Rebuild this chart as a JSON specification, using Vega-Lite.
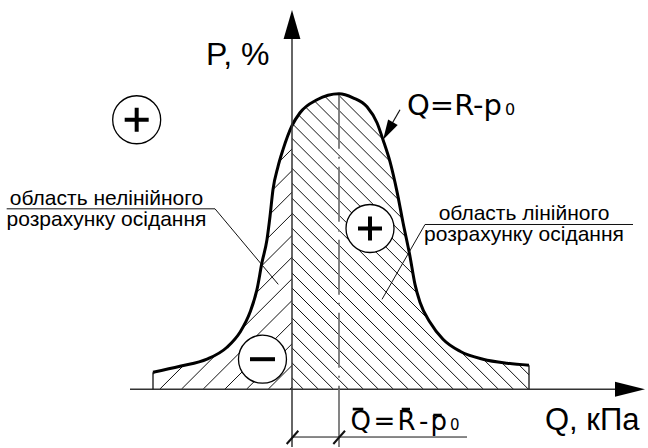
{
  "$schema": "https://vega.github.io/schema/vega-lite/v6.json",
  "width": 648,
  "height": 448,
  "autosize": {"type": "fit", "contains": "padding"},
  "padding": 0,
  "background": "white",
  "config": {"view": {"stroke": null}},
  "datasets": {
    "curve": [
      {"x": -34.75, "y": 4.25}, {"x": -28, "y": 5.75}, {"x": -21.25, "y": 7.5}, {"x": -16.25, "y": 10.5},
      {"x": -13, "y": 14.25}, {"x": -10.5, "y": 19.25}, {"x": -8.75, "y": 25}, {"x": -7.5, "y": 31.75},
      {"x": -6.25, "y": 37.5}, {"x": -5.5, "y": 43.25}, {"x": -4.75, "y": 50}, {"x": -3.5, "y": 55.75},
      {"x": -2.25, "y": 60}, {"x": 0, "y": 66}, {"x": 2, "y": 69.25}, {"x": 6.25, "y": 72.5},
      {"x": 11.75, "y": 74}, {"x": 15.25, "y": 73}, {"x": 18.75, "y": 70.75}, {"x": 21.25, "y": 66.75},
      {"x": 22.75, "y": 62.5}, {"x": 24.5, "y": 57}, {"x": 26.25, "y": 49.5}, {"x": 27.75, "y": 41.75},
      {"x": 29.5, "y": 33.25}, {"x": 30.75, "y": 26.25}, {"x": 32, "y": 21.75}, {"x": 34.5, "y": 16.75},
      {"x": 37.75, "y": 12.5}, {"x": 42, "y": 9.5}, {"x": 47.75, "y": 7.5}, {"x": 53.75, "y": 6.5},
      {"x": 59.25, "y": 6}
    ],
    "hatch": [
      {"x": -0.5, "y": 0, "x2": 0, "y2": 0.5},
      {"x": -5.93, "y": 0, "x2": 0, "y2": 5.93},
      {"x": -11.35, "y": 0, "x2": 0, "y2": 11.35},
      {"x": -16.78, "y": 0, "x2": 0, "y2": 16.78},
      {"x": -22.2, "y": 0, "x2": 0, "y2": 22.2},
      {"x": -27.63, "y": 0, "x2": 0, "y2": 27.63},
      {"x": -33.05, "y": 0, "x2": 0, "y2": 33.05},
      {"x": -34.75, "y": 3.73, "x2": 0, "y2": 38.48},
      {"x": -34.75, "y": 9.15, "x2": 0, "y2": 43.9},
      {"x": -34.75, "y": 14.58, "x2": 0, "y2": 49.33},
      {"x": -34.75, "y": 20, "x2": 0, "y2": 54.75},
      {"x": -34.75, "y": 25.43, "x2": 0, "y2": 60.18},
      {"x": -34.75, "y": 30.85, "x2": 0, "y2": 65.6},
      {"x": 0, "y": 2.83, "x2": 2.83, "y2": 0},
      {"x": 0, "y": 6.58, "x2": 6.58, "y2": 0},
      {"x": 0, "y": 10.33, "x2": 10.33, "y2": 0},
      {"x": 0, "y": 14.08, "x2": 14.08, "y2": 0},
      {"x": 0, "y": 17.83, "x2": 17.83, "y2": 0},
      {"x": 0, "y": 21.58, "x2": 21.58, "y2": 0},
      {"x": 0, "y": 25.33, "x2": 25.33, "y2": 0},
      {"x": 0, "y": 29.08, "x2": 29.08, "y2": 0},
      {"x": 0, "y": 32.83, "x2": 32.83, "y2": 0},
      {"x": 0, "y": 36.58, "x2": 36.58, "y2": 0},
      {"x": 0, "y": 40.33, "x2": 40.33, "y2": 0},
      {"x": 0, "y": 44.08, "x2": 44.08, "y2": 0},
      {"x": 0, "y": 47.83, "x2": 47.83, "y2": 0},
      {"x": 0, "y": 51.58, "x2": 51.58, "y2": 0},
      {"x": 0, "y": 55.33, "x2": 55.33, "y2": 0},
      {"x": 0, "y": 59.08, "x2": 59.08, "y2": 0},
      {"x": 0, "y": 62.83, "x2": 59.25, "y2": 3.58},
      {"x": 0, "y": 66.58, "x2": 59.25, "y2": 7.33},
      {"x": 0, "y": 70.33, "x2": 59.25, "y2": 11.08},
      {"x": 0, "y": 74.08, "x2": 59.25, "y2": 14.83},
      {"x": 0, "y": 77.83, "x2": 59.25, "y2": 18.58},
      {"x": 0, "y": 81.58, "x2": 59.25, "y2": 22.33},
      {"x": 0, "y": 85.33, "x2": 59.25, "y2": 26.08}
    ],
    "circles": [
      {"x": -38.83, "y": 67.5},
      {"x": 19.5, "y": 40.25},
      {"x": -7.38, "y": 7.5}
    ],
    "plus": [
      {"x": -38.83, "y": 67.5},
      {"x": 19.5, "y": 40.25}
    ],
    "minus": [
      {"x": -7.38, "y": 7.5}
    ],
    "center": [
      {"x": 11.75, "y": 74, "x2": 11.75, "y2": 0}
    ],
    "lines": [
      {"x": -40.5, "y": 0, "x2": 84, "y2": 0, "w": 1.5, "c": "#333"},
      {"x": 0, "y": -14.5, "x2": 0, "y2": 91, "w": 1.5, "c": "#333"},
      {"x": 11.75, "y": 0, "x2": 11.75, "y2": -14.5, "w": 1.8, "c": "#777"},
      {"x": -34.75, "y": 0, "x2": -34.75, "y2": 4.25, "w": 1.3, "c": "#111"},
      {"x": 59.25, "y": 0, "x2": 59.25, "y2": 6, "w": 1.3, "c": "#111"},
      {"x": -71.33, "y": 45.18, "x2": -19.25, "y2": 45.18, "w": 1, "c": "#111"},
      {"x": -19.25, "y": 45.18, "x2": -3.43, "y2": 26.25, "w": 1, "c": "#111"},
      {"x": 33.25, "y": 41.25, "x2": 85.25, "y2": 41.25, "w": 1, "c": "#111"},
      {"x": 33.25, "y": 41.25, "x2": 22.5, "y2": 22.5, "w": 1, "c": "#111"},
      {"x": 27, "y": 70, "x2": 24.3, "y2": 65.3, "w": 1.2, "c": "#111"},
      {"x": 0, "y": -12, "x2": 43.75, "y2": -12, "w": 1, "c": "#111"},
      {"x": -1.33, "y": -13.75, "x2": 1.58, "y2": -10.43, "w": 2, "c": "#111"},
      {"x": 10.33, "y": -13.75, "x2": 13.25, "y2": -10.43, "w": 2, "c": "#111"},
      {"x": 15.18, "y": -5, "x2": 17.83, "y2": -5, "w": 2.7, "c": "#000"},
      {"x": 27.43, "y": -5, "x2": 29.5, "y2": -5, "w": 2.7, "c": "#000"},
      {"x": 35.33, "y": -6.5, "x2": 37.43, "y2": -6.5, "w": 2.7, "c": "#000"}
    ],
    "arrowX": [{"x": 84.5, "y": 0}],
    "arrowP": [{"x": 0, "y": 91.38}],
    "arrowQ": [{"x": 24, "y": 64.68}],
    "titles": [
      {"x": -21.5, "y": 81.25, "t": "P, %", "fs": 32},
      {"x": 63.25, "y": -10.25, "t": "Q, кПа", "fs": 31}
    ],
    "labels": [
      {"x": 28.75, "y": 68.75, "t": "Q=R-p", "fs": 29},
      {"x": 53.25, "y": 68.75, "t": "0", "fs": 16},
      {"x": 14.63, "y": -10.25, "t": "Q", "fs": 26},
      {"x": 20.38, "y": -10.25, "t": "=", "fs": 26},
      {"x": 26.38, "y": -10.25, "t": "R", "fs": 26},
      {"x": 31.75, "y": -10.25, "t": "-", "fs": 26},
      {"x": 34.63, "y": -10.25, "t": "p", "fs": 26},
      {"x": 39.5, "y": -10.25, "t": "0", "fs": 15}
    ],
    "notes": [
      {"x": -46.38, "y": 46.25, "t": "область нелінійного", "fs": 21},
      {"x": -46.38, "y": 40.83, "t": "розрахунку осідання", "fs": 21},
      {"x": 58, "y": 42.5, "t": "область лінійного", "fs": 21},
      {"x": 58, "y": 37.08, "t": "розрахунку осідання", "fs": 21}
    ]
  },
  "encoding": {
    "x": {"field": "x", "type": "quantitative", "scale": {"domain": [-73, 89], "nice": false, "zero": false}, "axis": null},
    "y": {"field": "y", "type": "quantitative", "scale": {"domain": [-14.5, 97.5], "nice": false, "zero": false}, "axis": null}
  },
  "layer": [
    {
      "data": {"name": "hatch"},
      "mark": {"type": "rule", "stroke": "#111", "strokeWidth": 1},
      "encoding": {"x2": {"field": "x2"}, "y2": {"field": "y2"}}
    },
    {
      "data": {"name": "curve"},
      "mark": {"type": "area", "interpolate": "monotone", "fill": "white", "opacity": 1},
      "encoding": {"y2": {"datum": 97.5}}
    },
    {
      "data": {"name": "circles"},
      "mark": {"type": "point", "shape": "circle", "size": 2304, "filled": true, "fill": "white", "stroke": "black", "strokeWidth": 1.3, "opacity": 1}
    },
    {
      "data": {"name": "plus"},
      "mark": {"type": "point", "shape": "M-1,0H1M0,-1V1", "size": 576, "filled": false, "stroke": "black", "strokeWidth": 4, "opacity": 1}
    },
    {
      "data": {"name": "minus"},
      "mark": {"type": "point", "shape": "M-1,0H1", "size": 625, "filled": false, "stroke": "black", "strokeWidth": 4, "opacity": 1}
    },
    {
      "data": {"name": "center"},
      "mark": {"type": "rule", "stroke": "#777", "strokeWidth": 1.8, "strokeDash": [55, 8, 2, 8]},
      "encoding": {"x2": {"field": "x2"}, "y2": {"field": "y2"}}
    },
    {
      "data": {"name": "curve"},
      "mark": {"type": "line", "interpolate": "monotone", "stroke": "black", "strokeWidth": 3}
    },
    {
      "data": {"name": "lines"},
      "mark": {"type": "rule"},
      "encoding": {
        "x2": {"field": "x2"},
        "y2": {"field": "y2"},
        "strokeWidth": {"field": "w", "type": "quantitative", "scale": null},
        "color": {"field": "c", "type": "nominal", "scale": null}
      }
    },
    {
      "data": {"name": "arrowX"},
      "mark": {"type": "point", "shape": "M1,0L-1,-0.5L-1,0.5Z", "size": 900, "filled": true, "color": "black", "opacity": 1}
    },
    {
      "data": {"name": "arrowP"},
      "mark": {"type": "point", "shape": "M1,0L-1,-0.58L-1,0.58Z", "size": 841, "angle": 270, "filled": true, "color": "black", "opacity": 1}
    },
    {
      "data": {"name": "arrowQ"},
      "mark": {"type": "point", "shape": "M1,0L-1,-0.55L-1,0.55Z", "size": 400, "angle": 119.5, "filled": true, "color": "black", "opacity": 1}
    },
    {
      "data": {"name": "titles"},
      "mark": {"type": "text", "align": "left", "baseline": "alphabetic", "font": "Liberation Sans", "color": "black"},
      "encoding": {
        "text": {"field": "t"},
        "size": {"field": "fs", "type": "quantitative", "scale": null}
      }
    },
    {
      "data": {"name": "labels"},
      "mark": {"type": "text", "align": "left", "baseline": "alphabetic", "font": "DejaVu Sans", "color": "black"},
      "encoding": {
        "text": {"field": "t"},
        "size": {"field": "fs", "type": "quantitative", "scale": null}
      }
    },
    {
      "data": {"name": "notes"},
      "mark": {"type": "text", "align": "center", "baseline": "alphabetic", "font": "Liberation Sans", "color": "black"},
      "encoding": {
        "text": {"field": "t"},
        "size": {"field": "fs", "type": "quantitative", "scale": null}
      }
    }
  ]
}
